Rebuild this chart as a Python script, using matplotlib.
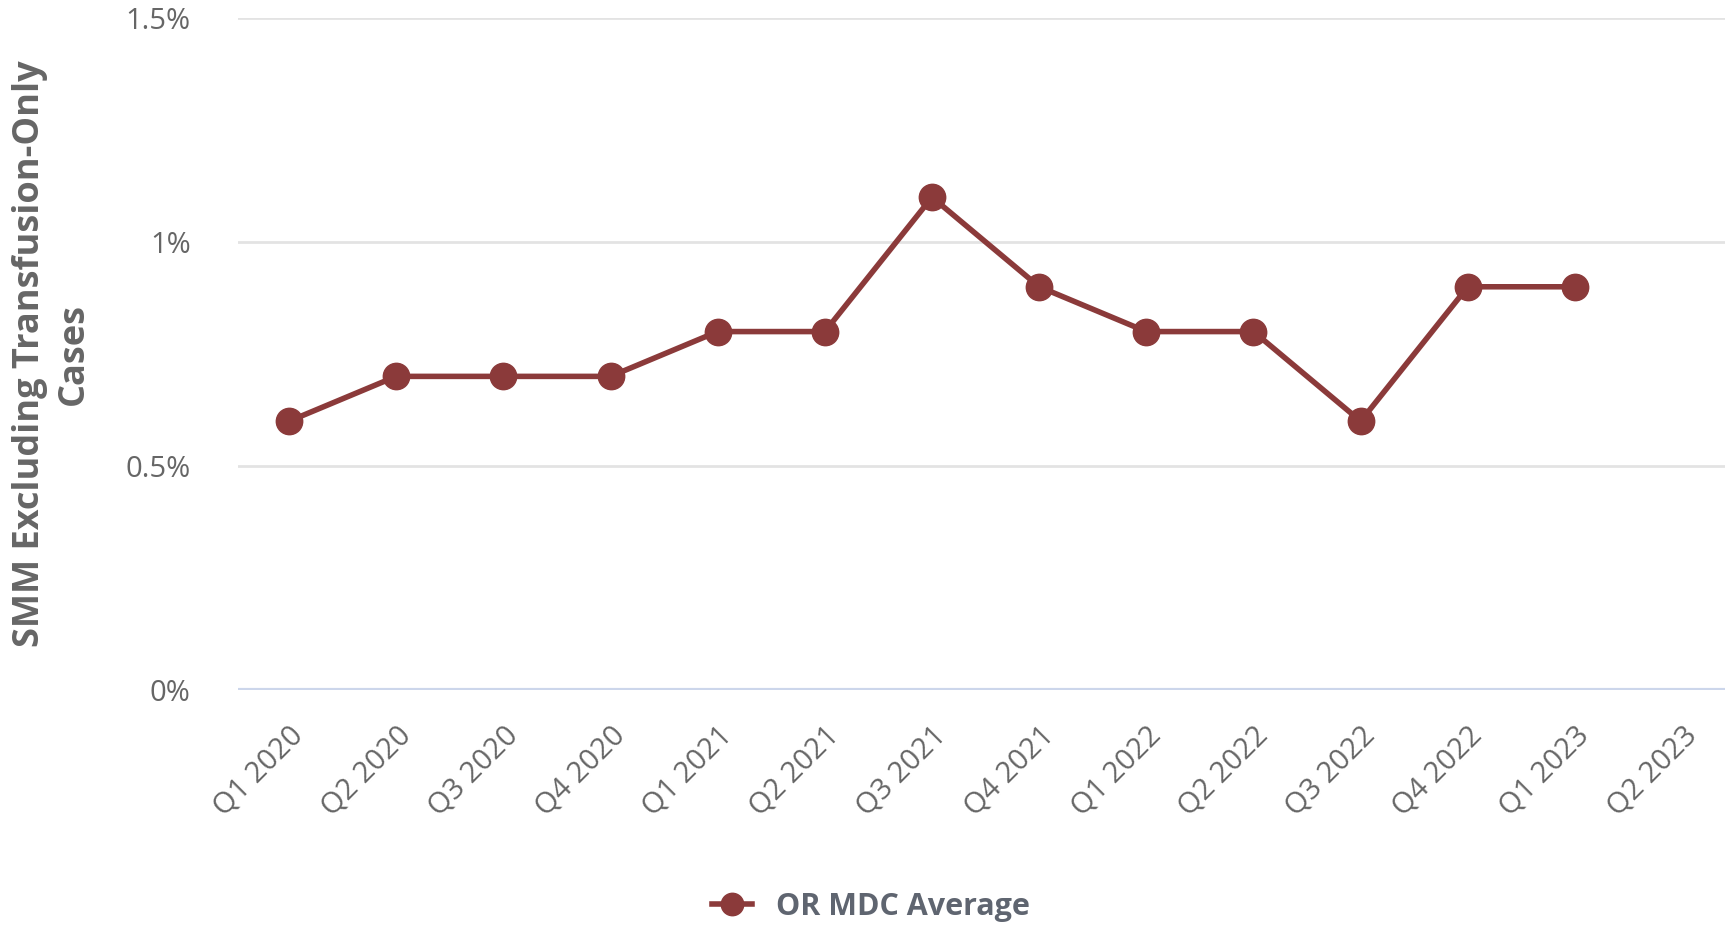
import numpy as np
import matplotlib
matplotlib.use("Agg")
import matplotlib.pyplot as plt
from matplotlib.ticker import FuncFormatter

quarters = ["Q1 2020", "Q2 2020", "Q3 2020", "Q4 2020", "Q1 2021", "Q2 2021", "Q3 2021",
            "Q4 2021", "Q1 2022", "Q2 2022", "Q3 2022", "Q4 2022", "Q1 2023", "Q2 2023"]
or_mdc_avg = [0.6, 0.7, 0.7, 0.7, 0.8, 0.8, 1.1, 0.9, 0.8, 0.8, 0.6, 0.9, 0.9, np.nan]

plt.rcParams["font.family"] = ["Open Sans", "DejaVu Sans"]

fig = plt.figure(figsize=(17.25, 9.27), dpi=100)
ax = fig.add_axes([0.138, 0.2557, 0.862, 0.7249])

x = np.arange(len(quarters))
line_color = "#8b3a3a"
ax.plot(x, or_mdc_avg, color=line_color, linewidth=4, marker="o", markersize=19,
        label="OR MDC Average", zorder=3)

ax.set_xlim(-0.476, 13.40)
ax.set_ylim(0, 1.5)
ax.set_yticks([0, 0.5, 1, 1.5])
ax.yaxis.set_major_formatter(FuncFormatter(lambda v, p: f"{v:g}%"))
ax.grid(axis="y", color="#e3e3e3", linewidth=2)
ax.axhline(0, color="#ccd6eb", linewidth=3, zorder=2)
for s in ax.spines.values():
    s.set_visible(False)
ax.tick_params(axis="both", length=0, labelsize=21, labelcolor="#666666")
ax.tick_params(axis="y", pad=34)

ax.set_xticks(x)
ax.set_xticklabels(quarters, rotation=45, ha="right", rotation_mode="anchor")
ax.tick_params(axis="x", pad=22)

ax.set_ylabel("SMM Excluding Transfusion-Only\nCases", fontsize=26, fontweight="bold",
              color="#666666", linespacing=1.3, labelpad=24)

fig.legend(loc="center", bbox_to_anchor=(0.505, 0.022), frameon=False,
           labelcolor="#5f6570", prop={"weight": "bold", "size": 22}, handlelength=1.3,
           markerscale=0.85)

plt.savefig("out.png", dpi=100)
